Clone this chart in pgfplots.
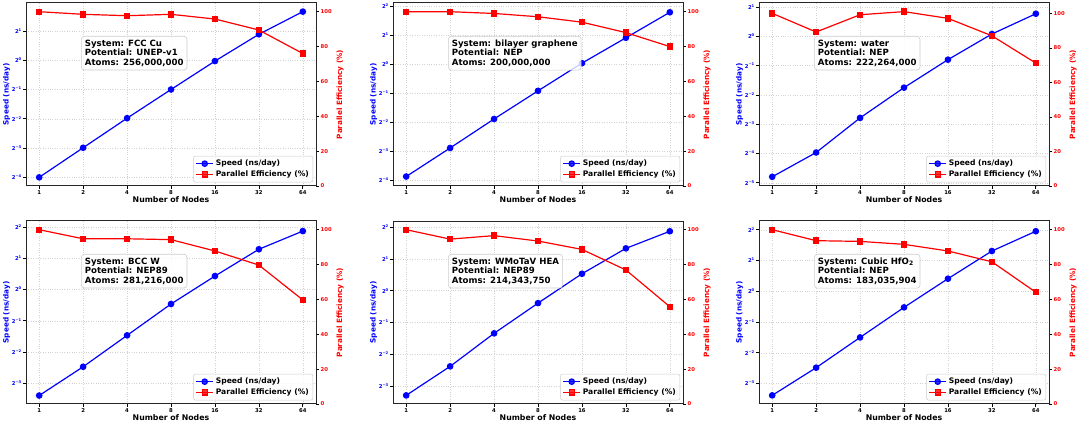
\documentclass[border=0pt]{standalone}
\usepackage{fontspec}
\setmainfont{DejaVu Sans}
\usepackage{pgfplots}
\pgfplotsset{compat=1.18}
\newcommand{\pw}[1]{2\textsuperscript{#1}}
\newcommand{\tkf}{\bfseries\fontsize{5.3}{6}\selectfont}
\newcommand{\lbf}{\bfseries\fontsize{7.3}{8}\selectfont}
\tikzset{
 speedline/.style={blue, line width=1.2pt, mark=*, mark size=2.7pt, mark options={solid}},
 effline/.style={red, line width=1.2pt, mark=square*, mark size=2.6pt, mark options={solid}},
 infobox/.style={draw=gray!40, line width=0.6pt, rounded corners=3pt, fill=white, fill opacity=0.8,
   text opacity=1, align=left, anchor=north west, inner sep=3.5pt,
   font=\bfseries\fontsize{8.6}{9.6}\selectfont}
}
% #1 x, #2 y, #3 ymin, #4 ymax, #5 ytick, #6 yticklabels, #7 speed coords, #8 eff ymax, #9 eff coords
\newcommand{\panel}[9]{%
\begin{axis}[scale only axis, width=290pt, height=183pt,
   at={(#1pt,#2pt)}, anchor=south west,
   xmode=log, log basis x=2, xmin=0.812, xmax=78.8,
   xtick={1,2,4,8,16,32,64}, xticklabels={1,2,4,8,16,32,64},
   ymode=log, log basis y=2, ymin=#3, ymax=#4,
   ytick={#5}, yticklabels={#6},
   tick align=outside, major tick length=3pt,
   xtick pos=left, ytick pos=left,
   xtick style={black, line width=0.7pt}, ytick style={black, line width=0.7pt},
   xticklabel style={font=\tkf, inner ysep=1pt},
   yticklabel style={font=\tkf, text=blue, inner xsep=1pt},
   axis line style={line width=1pt, black!85},
   xmajorgrids, ymajorgrids,
   major grid style={dotted, gray!35, line width=0.5pt},
   ylabel={Speed (ns/day)},
   ylabel style={text=blue, font=\lbf, at={(axis description cs:-0.067,0.5)}, anchor=center},
   xlabel={Number of Nodes},
   xlabel style={font=\bfseries\fontsize{7.8}{8.5}\selectfont, at={(axis description cs:0.5,-0.077)}, anchor=center},
   clip=false]
\addplot[speedline] coordinates {#7};
\end{axis}
\begin{axis}[scale only axis, width=290pt, height=183pt,
   at={(#1pt,#2pt)}, anchor=south west,
   xmode=log, log basis x=2, xmin=0.812, xmax=78.8,
   axis y line*=right, axis x line=none,
   ymin=0, ymax=#8, ytick={0,20,40,60,80,100}, yticklabels={0,20,40,60,80,100},
   tick align=outside, major tick length=3pt,
   ytick style={black, line width=0.7pt},
   yticklabel style={font=\tkf, text=red, inner xsep=1.5pt},
   axis line style={line width=1pt, black!85},
   ylabel={Parallel Efficiency (\%)},
   ylabel style={text=red, font=\lbf, at={(axis description cs:1.083,0.5)}, anchor=center},
   legend cell align=left,
   legend style={at={(0.99,0.02)}, anchor=south east, draw=gray!40, line width=0.5pt,
     rounded corners=2pt, fill=white, fill opacity=0.8, text opacity=1,
     font=\bfseries\fontsize{7.6}{8.4}\selectfont, inner sep=2pt, row sep=-0.5pt},
   clip=false]
\addlegendimage{speedline}\addlegendentry{Speed (ns/day)}
\addplot[effline] coordinates {#9};
\addlegendentry{Parallel Efficiency (\%)}
\node[infobox] at (rel axis cs:0.19,0.82) {\boxtext};
\end{axis}}
\begin{document}
\begin{tikzpicture}
\useasboundingbox (0pt,0pt) rectangle (1080pt,425pt);
% ---------------- Panel 1
\def\boxtext{System: FCC Cu\\Potential: UNEP-v1\\Atoms: 256,000,000}
\panel{26}{239}{0.0509}{3.877}{0.0625,0.125,0.25,0.5,1,2}
 {\pw{−4},\pw{−3},\pw{−2},\pw{−1},\pw{0},\pw{1}}
 {(1,0.0625) (2,0.1259) (4,0.2535) (8,0.5) (16,0.9794) (32,1.848) (64,3.160)}
 {105}
 {(1,100) (2,98.5) (4,97.7) (8,98.5) (16,95.8) (32,89.5) (64,76)}
% ---------------- Panel 2
\def\boxtext{System: bilayer graphene\\Potential: NEP\\Atoms: 200,000,000}
\panel{393}{239}{0.0540}{4.287}{0.0625,0.125,0.25,0.5,1,2,4}
 {\pw{−4},\pw{−3},\pw{−2},\pw{−1},\pw{0},\pw{1},\pw{2}}
 {(1,0.0677) (2,0.134) (4,0.268) (8,0.525) (16,1.0175) (32,1.866) (64,3.434)}
 {105}
 {(1,100) (2,100) (4,99) (8,97.1) (16,94) (32,88) (64,80)}
% ---------------- Panel 3
\def\boxtext{System: water\\Potential: NEP\\Atoms: 222,264,000}
\panel{759}{239}{0.02896}{2.204}{0.03125,0.0625,0.125,0.25,0.5,1,2}
 {\pw{−5},\pw{−4},\pw{−3},\pw{−2},\pw{−1},\pw{0},\pw{1}}
 {(1,0.0360) (2,0.0640) (4,0.1452) (8,0.2973) (16,0.5764) (32,1.057) (64,1.709)}
 {106}
 {(1,100) (2,89.2) (4,99.2) (8,101) (16,97.1) (32,87) (64,71.2)}
% ---------------- Panel 4
\def\boxtext{System: BCC W\\Potential: NEP89\\Atoms: 281,216,000}
\panel{26}{21}{0.0791}{4.563}{0.125,0.25,0.5,1,2,4}
 {\pw{−3},\pw{−2},\pw{−1},\pw{0},\pw{1},\pw{2}}
 {(1,0.0954) (2,0.1805) (4,0.362) (8,0.7252) (16,1.347) (32,2.440) (64,3.648)}
 {105}
 {(1,100) (2,94.8) (4,94.8) (8,94.3) (16,87.8) (32,79.7) (64,59.7)}
% ---------------- Panel 5
\def\boxtext{System: WMoTaV HEA\\Potential: NEP89\\Atoms: 214,343,750}
\panel{393}{21}{0.0848}{4.563}{0.125,0.25,0.5,1,2,4}
 {\pw{−3},\pw{−2},\pw{−1},\pw{0},\pw{1},\pw{2}}
 {(1,0.1023) (2,0.1925) (4,0.395) (8,0.763) (16,1.446) (32,2.514) (64,3.648)}
 {105}
 {(1,100) (2,94.6) (4,96.6) (8,93.5) (16,88.7) (32,76.9) (64,55.8)}
% ---------------- Panel 6
\def\boxtext{System: Cubic HfO\textsubscript{2}\\Potential: NEP\\Atoms: 183,035,904}
\panel{759}{21}{0.0788}{4.880}{0.125,0.25,0.5,1,2,4}
 {\pw{−3},\pw{−2},\pw{−1},\pw{0},\pw{1},\pw{2}}
 {(1,0.0957) (2,0.1787) (4,0.3536) (8,0.6959) (16,1.3287) (32,2.479) (64,3.874)}
 {105}
 {(1,100) (2,93.7) (4,93.3) (8,91.6) (16,87.8) (32,81.6) (64,64.1)}
\end{tikzpicture}
\end{document}
